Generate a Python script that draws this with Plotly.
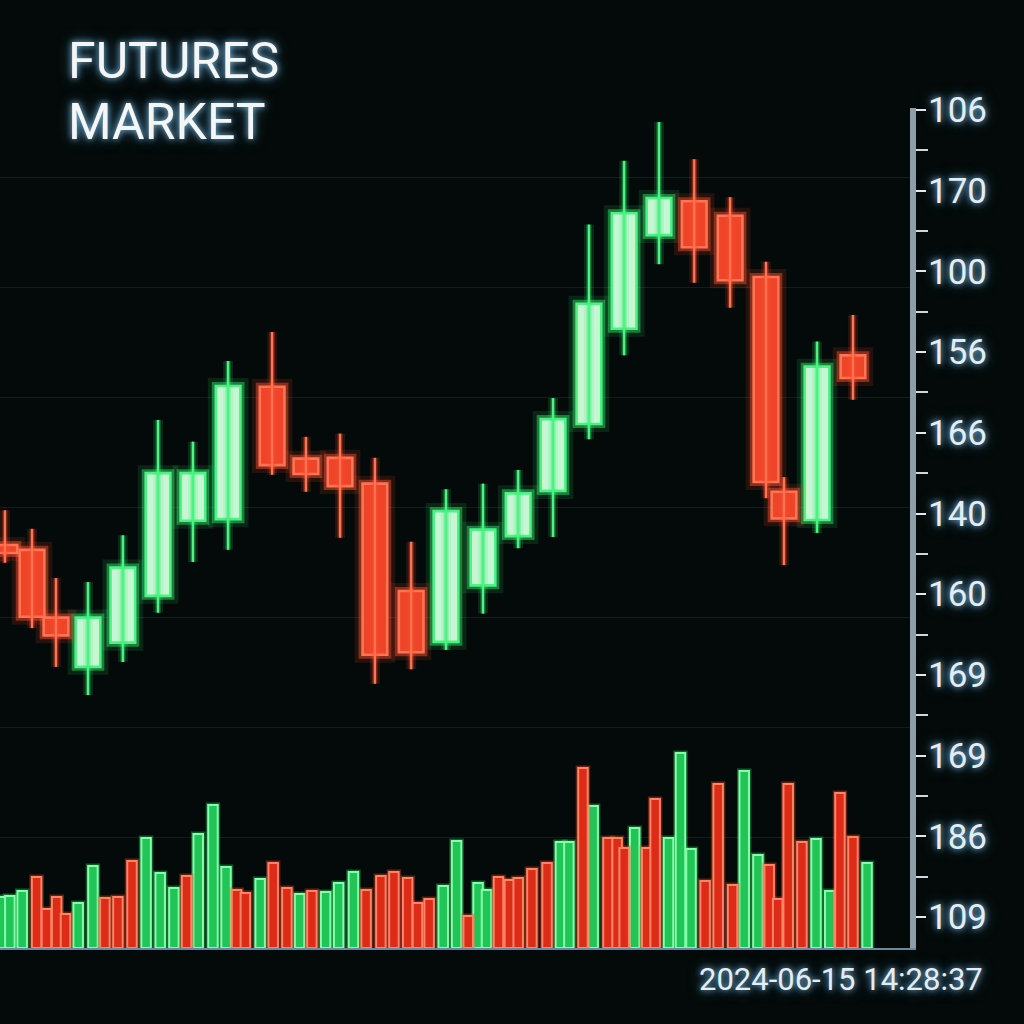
import plotly.graph_objects as go

# ---------------- data ----------------
candle_t = [0.14, 0.91, 1.59, 2.50, 3.49, 4.49, 5.48, 6.48, 7.73, 8.69, 9.66, 10.65, 11.68,
            12.67, 13.72, 14.72, 15.71, 16.73, 17.73, 18.72, 19.72, 20.74, 21.76, 22.27, 23.21, 24.23]
opens  = [146.1, 145.5, 137.1, 131.0, 134.0, 139.8, 149.1, 149.3, 165.7, 156.8, 156.9, 153.7, 140.4,
          134.1, 141.1, 147.2, 152.8, 161.1, 172.9, 184.5, 188.7, 186.9, 179.3, 152.7, 149.2, 169.6]
highs  = [150.4, 148.1, 142.0, 141.5, 147.3, 161.6, 158.9, 168.9, 172.5, 159.5, 159.9, 156.9, 146.5,
          153.0, 153.7, 155.4, 164.3, 185.8, 193.7, 198.5, 193.9, 189.2, 181.2, 154.5, 171.3, 174.6]
lows   = [143.9, 135.8, 131.0, 127.5, 131.6, 137.7, 144.0, 145.5, 154.8, 152.7, 147.0, 128.9, 130.7,
          133.1, 137.6, 145.7, 147.1, 159.2, 169.6, 180.9, 178.6, 175.5, 151.9, 143.6, 147.6, 164.1]
closes = [145.1, 137.2, 134.9, 137.1, 143.3, 155.0, 155.0, 165.8, 156.0, 154.9, 153.4, 132.5, 132.8,
          150.3, 148.0, 152.5, 161.7, 176.0, 187.2, 189.1, 183.0, 178.9, 153.9, 149.4, 168.2, 166.8]

vol_t = [0.03, 0.28, 0.63, 1.04, 1.32, 1.61, 1.86, 2.22, 2.64, 2.98, 3.35, 3.75, 4.15, 4.55, 4.94,
         5.30, 5.63, 6.05, 6.42, 6.72, 6.97, 7.39, 7.76, 8.15, 8.51, 8.86, 9.25, 9.62, 10.04, 10.40,
         10.82, 11.19, 11.58, 11.86, 12.19, 12.59, 12.97, 13.30, 13.58, 13.82, 14.16, 14.47, 14.72,
         15.11, 15.54, 15.92, 16.16, 16.56, 16.85, 17.27, 17.53, 17.73, 18.03, 18.37, 18.61, 18.99,
         19.33, 19.63, 20.03, 20.40, 20.81, 21.14, 21.53, 21.85, 22.09, 22.39, 22.78, 23.18, 23.57,
         23.86, 24.23, 24.63]
volumes = [464, 473, 518, 645, 355, 464, 309, 409, 745, 455, 464, 791, 1000, 682, 545, 655, 1036,
           1300, 736, 527, 500, 627, 773, 545, 491, 518, 509, 591, 691, 527, 655, 691, 636, 409, 445,
           564, 973, 291, 591, 527, 645, 618, 636, 718, 773, 964, 964, 1636, 1291, 1000, 1000, 909,
           1091, 909, 1355, 1000, 1773, 900, 609, 1491, 573, 1609, 845, 755, 445, 1491, 964, 991, 518,
           1409, 1009, 773]
vol_dir = ["u", "u", "u", "d", "d", "d", "d", "u", "u", "d", "d", "d", "u", "u", "u", "d", "u",
           "u", "u", "d", "d", "u", "d", "d", "u", "d", "u", "u", "u", "d", "d", "d", "d", "d", "d",
           "u", "u", "d", "u", "u", "d", "d", "d", "d", "d", "u", "u", "d", "u", "d", "d", "d",
           "u", "d", "d", "u", "u", "u", "d", "d", "d", "u", "u", "d", "d", "d", "d", "u", "u",
           "d", "d", "u"]

price_ticks = [100, 110, 120, 130, 140, 150, 160, 170, 180, 190, 200]
price_labels = ["109", "186", "169", "169", "160", "140", "166", "156", "100", "170", "106"]

title_lines = ["FUTURES", "MARKET"]
timestamp = "2024-06-15 14:28:37"

# ---------------- styles ----------------
BG = "#040a09"
UP_LINE, UP_FILL, UP_GLOW = "#4cf383", "#c6f6d3", "rgba(50,235,110,{a})"
DN_LINE, DN_FILL, DN_GLOW = "#ff7455", "#ee4529", "rgba(255,80,45,{a})"
VUP_LINE, VUP_FILL = "#86ffaa", "#20c457"
VDN_LINE, VDN_FILL = "#ff8466", "#dc2c18"
TXT = "#e6edf2"
GLOW_TXT = "0 0 6px rgba(140,210,255,0.9), 0 0 14px rgba(90,170,220,0.6)"
FONT = "Roboto"

fig = go.Figure()

# ---------- volume ----------
for d, line_c, fill_c, glow in [("u", VUP_LINE, VUP_FILL, UP_GLOW), ("d", VDN_LINE, VDN_FILL, DN_GLOW)]:
    xs = [t for t, k in zip(vol_t, vol_dir) if k == d]
    vs = [v for v, k in zip(volumes, vol_dir) if k == d]
    fig.add_trace(go.Bar(x=xs, y=vs, width=0.27, yaxis="y2",
                         marker=dict(color="rgba(0,0,0,0)", line=dict(color=glow.format(a=0.35), width=5)),
                         hoverinfo="skip", showlegend=False))
    fig.add_trace(go.Bar(x=xs, y=vs, width=0.27, yaxis="y2",
                         marker=dict(color=fill_c, line=dict(color=line_c, width=2)),
                         showlegend=False))

# ---------- candles ----------
for up, line_c, fill_c, glow in [(True, UP_LINE, UP_FILL, UP_GLOW), (False, DN_LINE, DN_FILL, DN_GLOW)]:
    idx = [i for i in range(len(opens)) if (closes[i] >= opens[i]) == up]
    wx, wy = [], []
    for i in idx:
        wx += [candle_t[i], candle_t[i], None]
        wy += [lows[i], highs[i], None]
    fig.add_trace(go.Scatter(x=wx, y=wy, mode="lines", line=dict(color=glow.format(a=0.14), width=10),
                             hoverinfo="skip", showlegend=False))
    fig.add_trace(go.Scatter(x=wx, y=wy, mode="lines", line=dict(color=glow.format(a=0.4), width=5),
                             hoverinfo="skip", showlegend=False))
    fig.add_trace(go.Scatter(x=wx, y=wy, mode="lines", line=dict(color=line_c, width=2.2),
                             hoverinfo="skip", showlegend=False))
    bx = [candle_t[i] for i in idx]
    base = [min(opens[i], closes[i]) for i in idx]
    h = [abs(closes[i] - opens[i]) for i in idx]
    fig.add_trace(go.Bar(x=bx, y=h, base=base, width=0.7,
                         marker=dict(color="rgba(0,0,0,0)", line=dict(color=glow.format(a=0.13), width=16)),
                         hoverinfo="skip", showlegend=False))
    fig.add_trace(go.Bar(x=bx, y=h, base=base, width=0.7,
                         marker=dict(color="rgba(0,0,0,0)", line=dict(color=glow.format(a=0.45), width=8)),
                         hoverinfo="skip", showlegend=False))
    fig.add_trace(go.Bar(x=bx, y=h, base=base, width=0.7,
                         marker=dict(color=fill_c, line=dict(color=line_c, width=2.6)),
                         showlegend=False))

minor_vals = [(a + b) / 2 for a, b in zip(price_ticks[:-1], price_ticks[1:])]

fig.update_layout(
    width=1024, height=1024,
    paper_bgcolor=BG, plot_bgcolor=BG,
    margin=dict(l=0, r=114, t=108, b=76),
    barmode="overlay",
    showlegend=False,
    xaxis=dict(range=[0, 25.85], showgrid=False, zeroline=False, showticklabels=False, ticks="",
               showline=True, linecolor="#6a8a9e", linewidth=2),
    yaxis=dict(range=[96.16, 200.25], side="right", tickmode="array", tickvals=price_ticks,
               ticktext=price_labels, showgrid=False, zeroline=False,
               showline=True, linecolor="#8d9ea9", linewidth=6,
               ticks="outside", ticklen=10, tickwidth=2, tickcolor="#e3e9ee",
               ticklabelstandoff=-5,
               minor=dict(tickmode="array", tickvals=minor_vals, ticks="outside", ticklen=12,
                          tickwidth=2, tickcolor="#cfd8de", showgrid=False),
               tickfont=dict(family=FONT, size=35, color=TXT, shadow=GLOW_TXT)),
    yaxis2=dict(range=[0, 7636], overlaying="y", side="left", showticklabels=False, ticks="",
                showline=False, zeroline=False, showgrid=True, tick0=0, dtick=1000,
                gridcolor="rgba(70,100,100,0.22)", gridwidth=1),
)

fig.add_annotation(text=title_lines[0], xref="paper", yref="paper", x=0.072, y=1.056,
                   xanchor="left", yanchor="middle", showarrow=False,
                   font=dict(family=FONT, size=50, color="#f5f5f3", shadow=GLOW_TXT))
fig.add_annotation(text=title_lines[1], xref="paper", yref="paper", x=0.072, y=0.983,
                   xanchor="left", yanchor="middle", showarrow=False,
                   font=dict(family=FONT, size=50, color="#f5f5f3", shadow=GLOW_TXT))
fig.add_annotation(text=timestamp, xref="paper", yref="paper", x=1.0824, y=-0.038,
                   xanchor="right", yanchor="middle", showarrow=False,
                   font=dict(family=FONT, size=31, color=TXT, shadow=GLOW_TXT))

fig.write_html("out.html")
